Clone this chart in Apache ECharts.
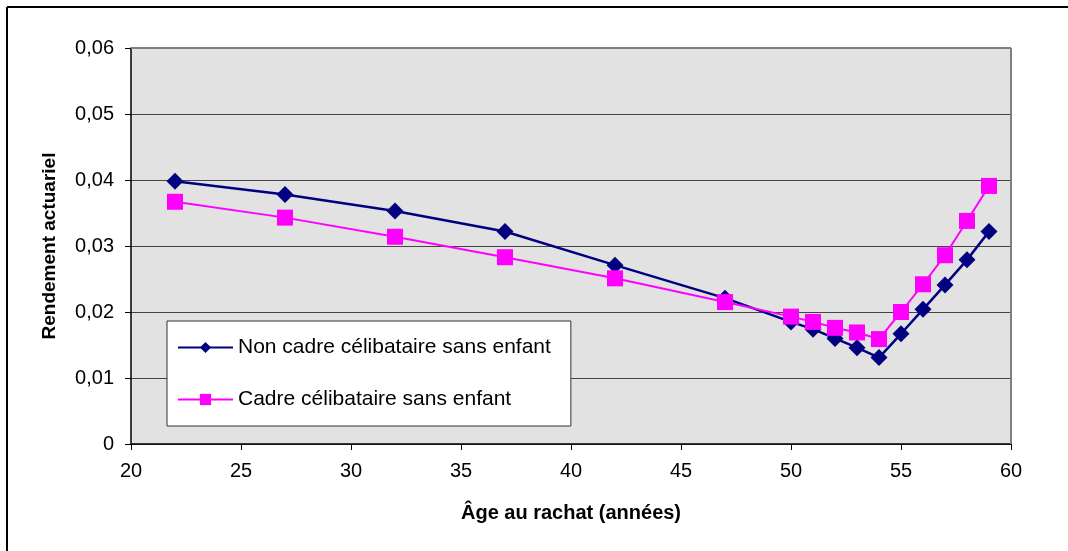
<!DOCTYPE html>
<html>
<head>
<meta charset="utf-8">
<script src="https://cdn.jsdelivr.net/npm/echarts@6/dist/echarts.min.js"></script>
<style>
  html, body { margin: 0; padding: 0; background: #fff; }
  #chart { width: 1068px; height: 551px; }
</style>
</head>
<body>
<div id="chart"></div>
<script>
// Âge au rachat (années)
var ages = [22, 27, 32, 37, 42, 47, 50, 51, 52, 53, 54, 55, 56, 57, 58, 59];
// Rendement actuariel
var nonCadre = [0.0398, 0.0378, 0.0353, 0.0322, 0.0271, 0.0221, 0.0185, 0.0174, 0.0160, 0.0146, 0.0131, 0.0167, 0.0204, 0.0241, 0.0279, 0.0322];
var cadre    = [0.0367, 0.0343, 0.0314, 0.0283, 0.0251, 0.0215, 0.0193, 0.0185, 0.0176, 0.0169, 0.0159, 0.0200, 0.0242, 0.0286, 0.0338, 0.0391];
var seriesNames = ['Non cadre célibataire sans enfant', 'Cadre célibataire sans enfant'];

function pairs(xs, ys) {
  return xs.map(function (x, i) { return [x, ys[i]]; });
}

var chart = echarts.init(document.getElementById('chart'));
var font = 'Liberation Sans, Arial, sans-serif';

chart.setOption({
  animation: false,
  backgroundColor: '#ffffff',
  textStyle: { fontFamily: font },
  graphic: [
    // chart frame (top and left edges)
    { type: 'line', shape: { x1: 7, y1: 7, x2: 1068, y2: 7 }, style: { stroke: '#000', lineWidth: 2 } },
    { type: 'line', shape: { x1: 7, y1: 7, x2: 7, y2: 551 }, style: { stroke: '#000', lineWidth: 2 } },
    // plot area top and right edges
    { type: 'line', shape: { x1: 131, y1: 48, x2: 1011, y2: 48 }, style: { stroke: '#808080', lineWidth: 2 }, z: 5 },
    { type: 'line', shape: { x1: 1011, y1: 48, x2: 1011, y2: 444 }, style: { stroke: '#808080', lineWidth: 2 }, z: 5 }
  ],
  grid: {
    left: 131, right: 57, top: 48, bottom: 107,
    show: true, backgroundColor: '#e2e2e2', borderWidth: 0
  },
  legend: {
    orient: 'vertical',
    left: 167, top: 321,
    padding: [16, 20, 16, 10],
    itemGap: 31,
    itemWidth: 55, itemHeight: 14,
    backgroundColor: '#ffffff',
    borderColor: '#333333', borderWidth: 1,
    textStyle: { fontFamily: font, fontSize: 21, color: '#000' },
    data: seriesNames
  },
  xAxis: {
    type: 'value',
    min: 20, max: 60, interval: 5,
    name: 'Âge au rachat (années)',
    nameLocation: 'middle', nameGap: 59,
    nameTextStyle: { fontFamily: font, fontSize: 20, fontWeight: 'bold', color: '#000' },
    axisLine: { show: true, onZero: false, lineStyle: { color: '#000', width: 1.5 } },
    axisTick: { show: true, inside: false, length: 6, lineStyle: { color: '#000' } },
    axisLabel: { fontFamily: font, fontSize: 20, color: '#000', margin: 17 },
    splitLine: { show: false }
  },
  yAxis: {
    type: 'value',
    min: 0, max: 0.06, interval: 0.01,
    name: 'Rendement actuariel',
    nameLocation: 'middle', nameGap: 72, nameRotate: 90,
    nameTextStyle: { fontFamily: font, fontSize: 19, fontWeight: 'bold', color: '#000' },
    axisLine: { show: true, lineStyle: { color: '#000', width: 1.5 } },
    axisTick: { show: true, inside: false, length: 6, lineStyle: { color: '#000' } },
    axisLabel: {
      fontFamily: font, fontSize: 20, color: '#000', margin: 17,
      formatter: function (v) { return v === 0 ? '0' : v.toFixed(2).replace('.', ','); }
    },
    splitLine: { show: true, lineStyle: { color: '#444444', width: 1 } }
  },
  series: [
    {
      name: seriesNames[0],
      type: 'line',
      data: pairs(ages, nonCadre),
      symbol: 'diamond', symbolSize: 17,
      lineStyle: { color: '#000080', width: 2.5 },
      itemStyle: { color: '#000080' },
      z: 3
    },
    {
      name: seriesNames[1],
      type: 'line',
      data: pairs(ages, cadre),
      symbol: 'rect', symbolSize: 16,
      lineStyle: { color: '#ff00ff', width: 2 },
      itemStyle: { color: '#ff00ff' },
      z: 4
    }
  ]
});
</script>
</body>
</html>
